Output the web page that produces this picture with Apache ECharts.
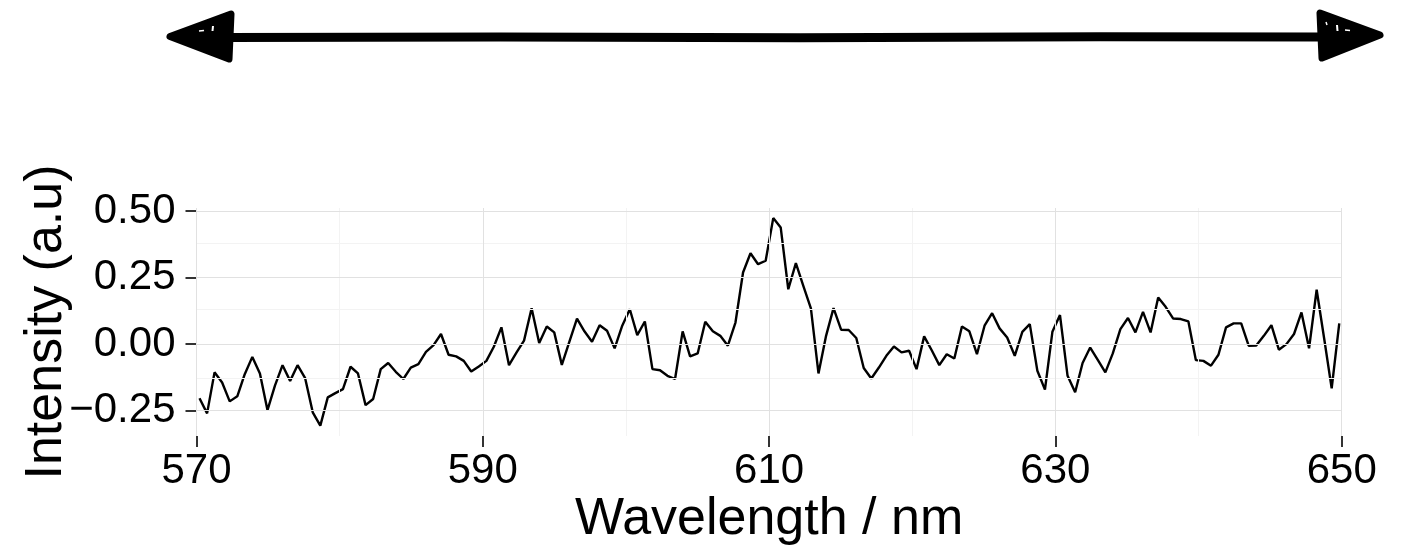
<!DOCTYPE html>
<html>
<head>
<meta charset="utf-8">
<script src="https://cdn.jsdelivr.net/npm/echarts@6/dist/echarts.min.js"></script>
<style>
html,body{margin:0;padding:0;background:#fff;}
#chart{width:1402px;height:547px;}
</style>
</head>
<body>
<div id="chart"></div>
<script>
// Wavelength (nm) of each sample
const wavelengths = [
570.21,570.74,571.26,571.79,572.32,572.85,573.37,573.90,574.43,574.96,
575.48,576.01,576.54,577.06,577.59,578.12,578.65,579.17,579.70,580.23,
580.76,581.28,581.81,582.34,582.87,583.39,583.92,584.45,584.97,585.50,
586.03,586.56,587.08,587.61,588.14,588.67,589.19,589.72,590.25,590.77,
591.30,591.83,592.36,592.88,593.41,593.94,594.47,594.99,595.52,596.05,
596.58,597.10,597.63,598.16,598.68,599.21,599.74,600.27,600.79,601.32,
601.85,602.38,602.90,603.43,603.96,604.48,605.01,605.54,606.07,606.59,
607.12,607.65,608.18,608.70,609.23,609.76,610.29,610.81,611.34,611.87,
612.39,612.92,613.45,613.98,614.50,615.03,615.56,616.09,616.61,617.14,
617.67,618.19,618.72,619.25,619.78,620.30,620.83,621.36,621.89,622.41,
622.94,623.47,623.99,624.52,625.05,625.58,626.10,626.63,627.16,627.69,
628.21,628.74,629.27,629.79,630.32,630.85,631.38,631.90,632.43,632.96,
633.49,634.01,634.54,635.07,635.59,636.12,636.65,637.18,637.70,638.23,
638.76,639.29,639.81,640.34,640.87,641.39,641.92,642.45,642.98,643.50,
644.03,644.56,645.09,645.61,646.14,646.67,647.19,647.72,648.25,648.78,
649.30,649.83
];
// Intensity (a.u) of each sample
const intensity = [
-0.203,-0.260,-0.106,-0.144,-0.215,-0.196,-0.113,-0.048,-0.110,-0.248,
-0.156,-0.079,-0.138,-0.079,-0.128,-0.256,-0.306,-0.200,-0.184,-0.169,
-0.085,-0.110,-0.229,-0.206,-0.094,-0.071,-0.104,-0.131,-0.088,-0.075,
-0.029,-0.004,0.038,-0.040,-0.046,-0.063,-0.103,-0.084,-0.063,-0.010,
0.063,-0.079,-0.031,0.013,0.135,0.004,0.066,0.044,-0.078,0.009,
0.096,0.048,0.009,0.071,0.050,-0.016,0.069,0.131,0.034,0.085,
-0.094,-0.098,-0.119,-0.131,0.048,-0.046,-0.035,0.084,0.048,0.031,
-0.006,0.081,0.269,0.341,0.300,0.313,0.473,0.438,0.206,0.304,
0.219,0.134,-0.110,0.031,0.135,0.054,0.053,0.023,-0.090,-0.129,
-0.088,-0.044,-0.009,-0.031,-0.025,-0.094,0.029,-0.023,-0.079,-0.038,
-0.054,0.066,0.048,-0.038,0.069,0.116,0.059,0.025,-0.044,0.046,
0.075,-0.100,-0.171,0.046,0.109,-0.119,-0.181,-0.071,-0.013,-0.059,
-0.106,-0.035,0.056,0.098,0.044,0.121,0.044,0.175,0.140,0.096,
0.094,0.085,-0.060,-0.063,-0.081,-0.040,0.063,0.078,0.078,-0.006,
-0.005,0.031,0.071,-0.021,0.000,0.038,0.119,-0.016,0.204,0.019,
-0.166,0.078
];
// Axis ticks
const xTicks = [570, 590, 610, 630, 650];
const xMinorGrid = [580, 600, 620, 640];
const yTicks = [-0.25, 0, 0.25, 0.5];
const yMinorGrid = [-0.125, 0.125, 0.375];

const xTitle = 'Wavelength / nm';
const yTitle = 'Intensity (a.u)';

const FONT = '"Liberation Sans", Arial, Helvetica, sans-serif';
const MAJOR = '#e1e1e1';
const MINOR = '#f3f3f3';

const gridLines = [];
xMinorGrid.forEach(v => gridLines.push({xAxis: v, lineStyle: {color: MINOR, width: 1, type: 'solid'}}));
yMinorGrid.forEach(v => gridLines.push({yAxis: v, lineStyle: {color: MINOR, width: 1, type: 'solid'}}));
xTicks.forEach(v => gridLines.push({xAxis: v, lineStyle: {color: MAJOR, width: 1, type: 'solid'}}));
yTicks.forEach(v => gridLines.push({yAxis: v, lineStyle: {color: MAJOR, width: 1, type: 'solid'}}));

const chart = echarts.init(document.getElementById('chart'), null, {renderer: 'canvas'});

function fmtY(v) {
  const s = Math.abs(v).toFixed(2);
  return v < 0 ? '\u2212' + s : s;
}

// Hand-drawn style double arrow decoration at the top
const arrowGraphic = [
  {type: 'polyline', z: 10, shape: {points: [[228, 37.5], [500, 37], [800, 37.8], [1100, 36.8], [1322, 37]]},
   style: {stroke: '#000', lineWidth: 9, lineCap: 'round', lineJoin: 'round', fill: null}},
  {type: 'polygon', z: 10, shape: {points: [[170, 36.5], [231, 14], [229, 59]]},
   style: {fill: '#000', stroke: '#000', lineWidth: 7, lineJoin: 'round'}},
  {type: 'polygon', z: 10, shape: {points: [[1380, 35], [1320, 13], [1322, 58]]},
   style: {fill: '#000', stroke: '#000', lineWidth: 7, lineJoin: 'round'}},
  {type: 'line', z: 11, shape: {x1: 199, y1: 31, x2: 204, y2: 30.5}, style: {stroke: '#fff', lineWidth: 1.5}},
  {type: 'line', z: 11, shape: {x1: 213, y1: 26, x2: 212.5, y2: 31}, style: {stroke: '#fff', lineWidth: 2}},
  {type: 'line', z: 11, shape: {x1: 1326, y1: 22, x2: 1327, y2: 25}, style: {stroke: '#fff', lineWidth: 1.5}},
  {type: 'line', z: 11, shape: {x1: 1337, y1: 25, x2: 1337.5, y2: 31}, style: {stroke: '#fff', lineWidth: 2}},
  {type: 'line', z: 11, shape: {x1: 1345, y1: 30, x2: 1350, y2: 30.5}, style: {stroke: '#fff', lineWidth: 1.5}}
];

chart.setOption({
  animation: false,
  backgroundColor: '#fff',
  textStyle: {fontFamily: FONT},
  graphic: arrowGraphic,
  grid: {left: 196.5, right: 60.3, top: 208, bottom: 110, containLabel: false},
  xAxis: {
    type: 'value',
    min: 570, max: 650,
    name: xTitle,
    nameLocation: 'middle',
    nameGap: 58,
    nameMoveOverlap: false,
    nameTextStyle: {fontSize: 52, color: '#000', fontFamily: FONT},
    axisLine: {show: false, onZero: false},
    axisTick: {show: true, customValues: xTicks, length: 11, lineStyle: {color: '#333', width: 2}},
    axisLabel: {customValues: xTicks, fontSize: 42, color: '#000', margin: 14, fontFamily: FONT},
    splitLine: {show: false}
  },
  yAxis: {
    type: 'value',
    min: -0.345, max: 0.511,
    name: yTitle,
    nameLocation: 'middle',
    nameRotate: 90,
    nameGap: 124,
    nameMoveOverlap: false,
    nameTextStyle: {fontSize: 52, color: '#000', fontFamily: FONT},
    axisLine: {show: false, onZero: false},
    axisTick: {show: true, customValues: yTicks, length: 11, lineStyle: {color: '#333', width: 2}},
    axisLabel: {customValues: yTicks, fontSize: 42, color: '#000', margin: 21, fontFamily: FONT, formatter: fmtY},
    splitLine: {show: false}
  },
  series: [
    {
      type: 'line',
      z: 1,
      silent: true,
      data: [[570, 0]],
      showSymbol: false,
      symbol: 'none',
      lineStyle: {opacity: 0},
      markLine: {
        silent: true,
        symbol: ['none', 'none'],
        label: {show: false},
        emphasis: {disabled: true},
        animation: false,
        data: gridLines
      }
    },
    {
      type: 'line',
      z: 3,
      data: wavelengths.map((w, i) => [w, intensity[i]]),
      showSymbol: false,
      symbol: 'none',
      lineStyle: {color: '#000', width: 2.4},
      clip: true
    }
  ]
});
</script>
</body>
</html>
